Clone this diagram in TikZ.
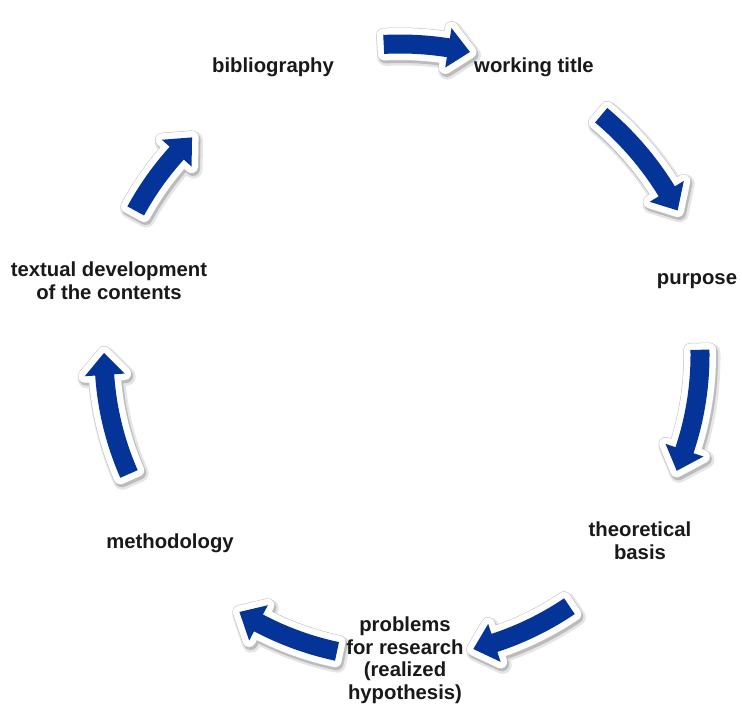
\documentclass[tikz,border=0pt]{standalone}
\usepackage{fontspec}
\setmainfont{Liberation Sans}
\definecolor{arrowblue}{RGB}{4,52,152}
\tikzset{
  lbl/.style={font=\bfseries\fontsize{20.3}{23}\selectfont, align=center, inner sep=0pt, text=black!90},
  lblstack/.style={lbl, font=\bfseries\fontsize{20.3}{22.5}\selectfont},
  shadowA/.style={draw=black, fill=black, opacity=0.10, line width=18pt, line join=round},
  shadowB/.style={draw=black, fill=black, opacity=0.18, line width=14pt, line join=round},
  outline/.style={draw=white, fill=white, line width=13pt, line join=round},
  rim/.style={draw=black!25, line width=14pt, line join=round},
  body/.style={fill=arrowblue}
}
\newcommand{\cycarrow}[3]{%
  \pgfmathsetmacro\ro{#1+9.5}%
  \pgfmathsetmacro\ri{#1-9.5}%
  \pgfmathsetmacro\hro{#1+20}%
  \pgfmathsetmacro\hri{#1-20}%
  \pgfmathsetmacro\hb{#3+deg(22/#1)}%
  \def\arrowpath{(#2:\ro) arc[start angle=#2, end angle=\hb, radius=\ro] -- (\hb:\hro) -- (#3:#1) -- (\hb:\hri) -- (\hb:\ri) arc[start angle=\hb, end angle=#2, radius=\ri] -- cycle}%
  \begin{scope}[shift={(402,-3)}]
    \path[shadowA] \arrowpath;
  \end{scope}
  \begin{scope}[shift={(401.5,-2.5)}]
    \path[shadowB] \arrowpath;
  \end{scope}
  \begin{scope}[shift={(400,0)}]
    \path[rim] \arrowpath;
    \path[outline] \arrowpath;
    \path[body] \arrowpath;
  \end{scope}
}
\begin{document}
\begin{tikzpicture}[x=1pt,y=1pt]
  \useasboundingbox (0,-350) rectangle (742,355);
  \fill[white] (0,-350) rectangle (742,355);
  % arrows (centre of the cycle at (400,0) = pixel (400,355))
  \cycarrow{311}{93}{77}
  \cycarrow{313}{50}{27.5}
  \cycarrow{300}{1}{-22.7}
  \cycarrow{303}{-56}{-76}
  \cycarrow{303}{-102}{-122}
  \cycarrow{296}{203.7}{179.6}
  \cycarrow{301}{151.4}{133.7}
  % labels (Y = 355 - pixel y)
  \node[lbl] (bib)  at (273,288) {bibliography};
  \node[lbl] (wt)   at (534,288) {working title};
  \node[lbl] (purp) at (697,74) {purpose};
  \node[lbl] (theo) at (640,-186) {theoretical\\basis};
  \node[lblstack] (prob) at (405,-305) {problems\\for research\\(realized\\hypothesis)};
  \node[lbl] (meth) at (170,-188) {methodology};
  \node[lbl] (text) at (109,74) {textual development\\of the contents};
\end{tikzpicture}
\end{document}
